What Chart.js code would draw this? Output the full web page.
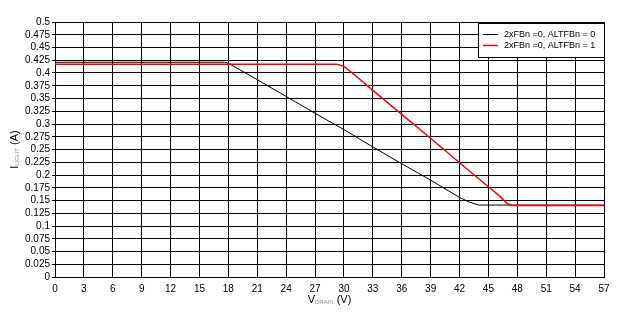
<!DOCTYPE html>
<html>
<head>
<meta charset="utf-8">
<script src="https://cdn.jsdelivr.net/npm/chart.js@4.4.0/dist/chart.umd.min.js"></script>
<style>
  html, body { margin: 0; padding: 0; background: #fff; }
  #wrap { width: 637px; height: 329px; position: relative; }
</style>
</head>
<body>
<div id="wrap"><canvas id="ilight-chart"></canvas></div>
<script>
// values
const blackLabel = '2xFBn =0, ALTFBn = 0';
const blackV = [0, 17.6, 18, 21, 24, 27, 30, 33, 36, 39, 42, 43, 44, 57];
const blackI = [0.421, 0.421, 0.419, 0.387, 0.354, 0.321, 0.289, 0.255, 0.222, 0.190, 0.156, 0.147, 0.141, 0.141];

const redLabel = '2xFBn =0, ALTFBn = 1';
const redV = [0, 29.3, 30, 31, 33, 36, 39, 42, 45, 46.2, 47, 47.6, 57];
const redI = [0.417, 0.417, 0.413, 0.398, 0.366, 0.319, 0.272, 0.224, 0.177, 0.158, 0.143, 0.140, 0.140];

const xTicks = [0, 3, 6, 9, 12, 15, 18, 21, 24, 27, 30, 33, 36, 39, 42, 45, 48, 51, 54, 57];
const yTicks = [0, 0.025, 0.05, 0.075, 0.1, 0.125, 0.15, 0.175, 0.2, 0.225, 0.25, 0.275, 0.3,
  0.325, 0.35, 0.375, 0.4, 0.425, 0.45, 0.475, 0.5];

const FONT = 'Arial, "Liberation Sans", sans-serif';

function toPoints(xs, ys) {
  return xs.map((x, i) => ({ x: x, y: ys[i] }));
}

// draws "main" + small grey subscript + "rest", centered at (cx, cy), optionally rotated
function drawSubTitle(ctx, main, sub, rest, cx, cy, angle) {
  ctx.save();
  ctx.translate(cx, cy);
  ctx.rotate(angle);
  ctx.textBaseline = 'middle';
  ctx.textAlign = 'left';
  ctx.font = '11px ' + FONT;
  const w1 = ctx.measureText(main).width;
  const w3 = ctx.measureText(rest).width;
  ctx.font = '6px ' + FONT;
  const w2 = ctx.measureText(sub).width;
  let x = -(w1 + w2 + w3) / 2;
  ctx.fillStyle = '#000';
  ctx.font = '11px ' + FONT;
  ctx.fillText(main, x, 0);
  x += w1;
  ctx.fillStyle = '#999';
  ctx.font = '6px ' + FONT;
  ctx.fillText(sub, x, 2.5);
  x += w2;
  ctx.fillStyle = '#000';
  ctx.font = '11px ' + FONT;
  ctx.fillText(rest, x, 0);
  ctx.restore();
}

const titlesAndLegend = {
  id: 'titlesAndLegend',
  afterDatasetsDraw(chart) {
    const ctx = chart.ctx;
    const a = chart.chartArea;
    // legend box in the top right corner of the plot
    const bx = a.right - 126, by = a.top + 1, bw = 127, bh = 35;
    ctx.save();
    ctx.fillStyle = '#fff';
    ctx.fillRect(bx, by, bw, bh);
    ctx.strokeStyle = '#000';
    ctx.lineWidth = 1;
    ctx.strokeRect(bx + 0.5, by + 0.5, bw - 1, bh - 1);
    ctx.font = '9px ' + FONT;
    ctx.textBaseline = 'middle';
    ctx.fillStyle = '#000';
    chart.data.datasets.forEach((ds, i) => {
      const ly = by + 11.5 + i * 11;
      ctx.strokeStyle = ds.borderColor;
      ctx.lineWidth = ds.borderWidth > 1 ? 1.4 : 1;
      ctx.beginPath();
      ctx.moveTo(bx + 5, ly);
      ctx.lineTo(bx + 20, ly);
      ctx.stroke();
      ctx.fillText(ds.label, bx + 26, ly);
    });
    ctx.restore();

    drawSubTitle(ctx, 'V', 'DRAIN', ' (V)', (a.left + a.right) / 2, a.bottom + 23, 0);
    drawSubTitle(ctx, 'I', 'LIGHT', ' (A)', 15, (a.top + a.bottom) / 2, -Math.PI / 2);
  }
};

new Chart(document.getElementById('ilight-chart'), {
  type: 'line',
  data: {
    datasets: [
      { label: blackLabel, data: toPoints(blackV, blackI), borderColor: '#000000', borderWidth: 1, pointRadius: 0, tension: 0, order: 1 },
      { label: redLabel, data: toPoints(redV, redI), borderColor: '#ff0000', borderWidth: 1.5, pointRadius: 0, tension: 0, order: 0 }
    ]
  },
  options: {
    responsive: true,
    maintainAspectRatio: false,
    animation: false,
    events: [],
    layout: { padding: { left: 0, top: 22, right: 33, bottom: 0 } },
    plugins: { legend: { display: false }, tooltip: { enabled: false } },
    scales: {
      x: {
        type: 'linear',
        min: 0, max: 57,
        afterBuildTicks: s => { s.ticks = xTicks.map(v => ({ value: v })); },
        afterFit: s => { s.height = 52; },
        grid: { color: '#000', lineWidth: 1, drawTicks: false },
        border: { color: '#000', width: 1 },
        ticks: { color: '#000', font: { family: FONT, size: 10 }, padding: 6, maxRotation: 0, autoSkip: false,
          callback: v => String(v) }
      },
      y: {
        type: 'linear',
        min: 0, max: 0.5,
        afterBuildTicks: s => { s.ticks = yTicks.map(v => ({ value: v })); },
        afterFit: s => { s.width = 55; },
        grid: { color: '#000', lineWidth: 1, tickLength: 3 },
        border: { color: '#000', width: 1 },
        ticks: { color: '#000', font: { family: FONT, size: 10 }, padding: 2, autoSkip: false,
          callback: v => String(parseFloat(Number(v).toFixed(3))) }
      }
    }
  },
  plugins: [titlesAndLegend]
});
</script>
</body>
</html>
